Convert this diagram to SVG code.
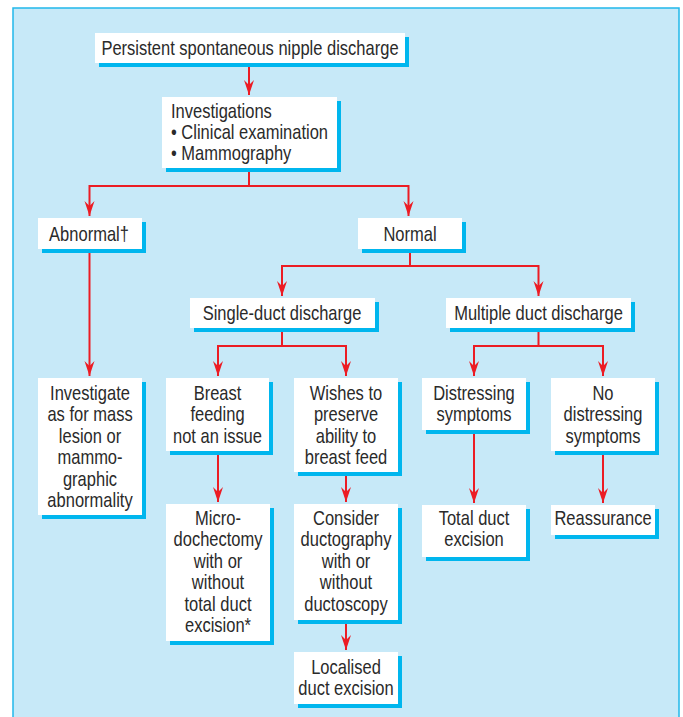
<svg xmlns="http://www.w3.org/2000/svg" width="683" height="717" viewBox="0 0 683 717">
<style>
.sh{fill:#00b6ee}
.bx{fill:#ffffff}
text{font-family:"Liberation Sans",Arial,sans-serif;font-size:20px;fill:#2a2a2a}
.c{text-anchor:middle}
.ln{fill:none;stroke:#ec1c24;stroke-width:2;marker-end:url(#ah)}
</style>
<defs>
<marker id="ah" markerUnits="userSpaceOnUse" markerWidth="18" markerHeight="12" viewBox="-16 -6 18 12" refX="2" refY="0" orient="auto">
<path d="M2,0 L-13,-5 L-8,0 L-13,5 Z" fill="#ec1c24"/>
</marker>
</defs>
<rect x="0" y="0" width="683" height="717" fill="#ffffff"/>
<rect x="13" y="8" width="666" height="730" fill="#c7e9f8" stroke="#22b8ea" stroke-width="1.5"/>
<g id="connectors">
<path class="ln" d="M249,63 V95"/>
<path class="ln" d="M249,168 V186 H89.5 V216"/>
<path class="ln" d="M249,186 H408.5 V216"/>
<path class="ln" d="M410,249 V266 H282 V296"/>
<path class="ln" d="M410,266 H538.5 V296"/>
<path class="ln" d="M89.5,249 V376"/>
<path class="ln" d="M282,328 V346 H218 V376"/>
<path class="ln" d="M282,346 H346 V376"/>
<path class="ln" d="M538.5,328 V346 H474 V376"/>
<path class="ln" d="M538.5,346 H603 V376"/>
<path class="ln" d="M218,451 V502"/>
<path class="ln" d="M346,472 V502"/>
<path class="ln" d="M346,620 V650"/>
<path class="ln" d="M474,430 V503"/>
<path class="ln" d="M603,451 V503"/>
</g>
<g id="n1"><rect class="sh" x="99" y="37" width="310" height="30"/><rect class="bx" x="95" y="33" width="310" height="30"/><text class="c" transform="matrix(0.825 0 0 1 250 55)">Persistent spontaneous nipple discharge</text></g>
<g id="n2"><rect class="sh" x="166" y="101" width="175" height="71"/><rect class="bx" x="162" y="97" width="175" height="71"/><text transform="matrix(0.825 0 0 1 171 118)">Investigations</text><text transform="matrix(0.825 0 0 1 171 139)">• Clinical examination</text><text transform="matrix(0.825 0 0 1 171 160)">• Mammography</text></g>
<g id="n3"><rect class="sh" x="42" y="222" width="104" height="31"/><rect class="bx" x="38" y="218" width="104" height="31"/><text class="c" transform="matrix(0.825 0 0 1 89 241)">Abnormal†</text></g>
<g id="n4"><rect class="sh" x="362" y="222" width="104" height="31"/><rect class="bx" x="358" y="218" width="104" height="31"/><text class="c" transform="matrix(0.825 0 0 1 410 241)">Normal</text></g>
<g id="n5"><rect class="sh" x="194" y="302" width="185" height="30"/><rect class="bx" x="190" y="298" width="185" height="30"/><text class="c" transform="matrix(0.825 0 0 1 282 320)">Single-duct discharge</text></g>
<g id="n6"><rect class="sh" x="450" y="302" width="185" height="30"/><rect class="bx" x="446" y="298" width="185" height="30"/><text class="c" transform="matrix(0.825 0 0 1 538.5 320)">Multiple duct discharge</text></g>
<g id="n7"><rect class="sh" x="42" y="382" width="104" height="137"/><rect class="bx" x="38" y="378" width="104" height="137"/><text class="c" transform="matrix(0.825 0 0 1 90 400)">Investigate</text><text class="c" transform="matrix(0.825 0 0 1 90 421.4)">as for mass</text><text class="c" transform="matrix(0.825 0 0 1 90 442.8)">lesion or</text><text class="c" transform="matrix(0.825 0 0 1 90 464.2)">mammo-</text><text class="c" transform="matrix(0.825 0 0 1 90 485.6)">graphic</text><text class="c" transform="matrix(0.825 0 0 1 90 507)">abnormality</text></g>
<g id="n8"><rect class="sh" x="170" y="382" width="103" height="73"/><rect class="bx" x="166" y="378" width="103" height="73"/><text class="c" transform="matrix(0.825 0 0 1 217.5 400)">Breast</text><text class="c" transform="matrix(0.825 0 0 1 217.5 421.4)">feeding</text><text class="c" transform="matrix(0.825 0 0 1 217.5 442.8)">not an issue</text></g>
<g id="n9"><rect class="sh" x="298" y="382" width="104" height="94"/><rect class="bx" x="294" y="378" width="104" height="94"/><text class="c" transform="matrix(0.825 0 0 1 346 400)">Wishes to</text><text class="c" transform="matrix(0.825 0 0 1 346 421.4)">preserve</text><text class="c" transform="matrix(0.825 0 0 1 346 442.8)">ability to</text><text class="c" transform="matrix(0.825 0 0 1 346 464.2)">breast feed</text></g>
<g id="n10"><rect class="sh" x="426" y="382" width="104" height="52"/><rect class="bx" x="422" y="378" width="104" height="52"/><text class="c" transform="matrix(0.825 0 0 1 474 400)">Distressing</text><text class="c" transform="matrix(0.825 0 0 1 474 421.4)">symptoms</text></g>
<g id="n11"><rect class="sh" x="555" y="382" width="104" height="73"/><rect class="bx" x="551" y="378" width="104" height="73"/><text class="c" transform="matrix(0.825 0 0 1 603 400)">No</text><text class="c" transform="matrix(0.825 0 0 1 603 421.4)">distressing</text><text class="c" transform="matrix(0.825 0 0 1 603 442.8)">symptoms</text></g>
<g id="n12"><rect class="sh" x="170" y="508" width="104" height="137"/><rect class="bx" x="166" y="504" width="104" height="137"/><text class="c" transform="matrix(0.825 0 0 1 218 525)">Micro-</text><text class="c" transform="matrix(0.825 0 0 1 218 546.4)">dochectomy</text><text class="c" transform="matrix(0.825 0 0 1 218 567.8)">with or</text><text class="c" transform="matrix(0.825 0 0 1 218 589.2)">without</text><text class="c" transform="matrix(0.825 0 0 1 218 610.6)">total duct</text><text class="c" transform="matrix(0.825 0 0 1 218 632)">excision*</text></g>
<g id="n13"><rect class="sh" x="298" y="508" width="104" height="116"/><rect class="bx" x="294" y="504" width="104" height="116"/><text class="c" transform="matrix(0.825 0 0 1 346 525)">Consider</text><text class="c" transform="matrix(0.825 0 0 1 346 546.4)">ductography</text><text class="c" transform="matrix(0.825 0 0 1 346 567.8)">with or</text><text class="c" transform="matrix(0.825 0 0 1 346 589.2)">without</text><text class="c" transform="matrix(0.825 0 0 1 346 610.6)">ductoscopy</text></g>
<g id="n14"><rect class="sh" x="298" y="656" width="104" height="52"/><rect class="bx" x="294" y="652" width="104" height="52"/><text class="c" transform="matrix(0.825 0 0 1 346 674)">Localised</text><text class="c" transform="matrix(0.825 0 0 1 346 695)">duct excision</text></g>
<g id="n15"><rect class="sh" x="426" y="509" width="104" height="52"/><rect class="bx" x="422" y="505" width="104" height="52"/><text class="c" transform="matrix(0.825 0 0 1 474 525)">Total duct</text><text class="c" transform="matrix(0.825 0 0 1 474 546.4)">excision</text></g>
<g id="n16"><rect class="sh" x="555" y="509" width="104" height="30"/><rect class="bx" x="551" y="505" width="104" height="30"/><text class="c" transform="matrix(0.825 0 0 1 603 525)">Reassurance</text></g>
</svg>
